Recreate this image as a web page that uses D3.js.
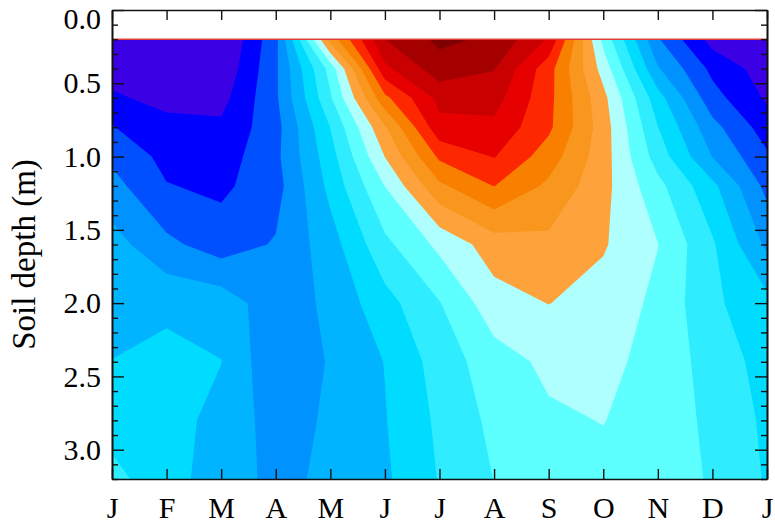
<!DOCTYPE html>
<html>
<head>
<meta charset="utf-8">
<script src="https://cdn.jsdelivr.net/npm/d3@7"></script>
<style>
  html, body { margin: 0; padding: 0; background: #fff; }
  svg { display: block; }
  text { font-family: "Liberation Serif", "Times New Roman", serif; fill: #000; }
</style>
</head>
<body>
<svg id="chart" width="775" height="527"></svg>
<script>
// Month labels (January to January) and sampled soil depths in metres
const months = ["J", "F", "M", "A", "M", "J", "J", "A", "S", "O", "N", "D", "J"];
const depths = [0.2, 0.4, 0.6, 0.8, 1.0, 1.2, 1.6, 2.0, 2.4, 2.8, 3.2];
const depthTicks = [0.0, 0.5, 1.0, 1.5, 2.0, 2.5, 3.0];

// Contour levels and the fill colour of each band (coldest first)
const levels = [1, 2, 3, 4, 5, 6, 7, 8, 9, 10, 11, 12, 13, 14, 15, 16];
const bandColors = [
  "#3b00e3", "#0000ff", "#0050ff", "#0092ff", "#00b4ff", "#00dcff",
  "#30ecff", "#5effff", "#b0ffff", "#fea23c", "#f8961e", "#f87f00",
  "#fd2800", "#e70000", "#c80000", "#a50000", "#7f0000"
];

// Monthly depth profiles (one value per depth, top to bottom), in level units
const profJan  = [0.30, 0.60, 1.15, 2.05, 2.80, 3.35, 4.40, 4.60, 5.02, 5.60, 6.30];
const profFeb  = [0.10, 0.30, 0.70, 1.30, 1.70, 2.05, 3.24, 4.76, 5.32, 5.50, 5.40];
const profMar  = [-0.14, 0.18, 0.65, 1.20, 1.50, 1.80, 2.50, 4.60, 5.02, 4.60, 4.50];
const profApr  = [2.71, 2.82, 2.83, 2.63, 2.75, 2.60, 3.09, 3.37, 3.17, 3.63, 3.75];
const profMay  = [10.40, 7.40, 6.87, 6.02, 5.60, 5.30, 4.55, 4.23, 4.09, 4.12, 4.19];
const profJun  = [15.00, 13.75, 11.75, 9.90, 9.02, 8.02, 6.75, 5.63, 5.03, 4.95, 4.84];
const profJul  = [16.23, 15.57, 14.30, 13.70, 12.20, 10.80, 8.25, 6.95, 6.44, 6.20, 6.06];
const profAug  = [15.81, 15.05, 14.40, 13.75, 13.05, 12.02, 9.50, 8.59, 7.56, 7.25, 7.02];
const profSep  = [13.90, 12.40, 12.30, 12.20, 11.50, 10.80, 9.75, 9.02, 8.22, 7.84, 7.50];
const profOct  = [7.70, 8.60, 9.30, 9.50, 9.45, 9.33, 9.10, 8.60, 8.30, 8.03, 7.70];
const profNov  = [3.10, 4.10, 5.40, 6.02, 6.55, 7.30, 8.02, 7.78, 7.62, 7.50, 7.40];
const profDec  = [0.60, 1.74, 2.39, 3.33, 3.97, 5.26, 6.13, 6.20, 6.60, 6.80, 6.92];
const profJan2 = [0.30, 0.50, 0.85, 1.50, 2.15, 2.70, 3.80, 5.30, 5.60, 5.80, 5.90];

const profiles = [profJan, profFeb, profMar, profApr, profMay, profJun, profJul,
                  profAug, profSep, profOct, profNov, profDec, profJan2];

const svg = d3.select("#chart");
const nx = months.length, ny = depths.length;

const x = d3.scaleLinear().domain([0, 12]).range([112, 767]);
const y = d3.scaleLinear().domain([0, 3.2]).range([10, 479]);

// Row-major grid for the contour generator
const values = [];
for (let j = 0; j < ny; j++) for (let i = 0; i < nx; i++) values.push(profiles[i][j]);

// Grid-index -> depth (depth rows are not evenly spaced)
const rowDepth = d3.scaleLinear().domain(d3.range(ny)).range(depths);

// Contour coordinates put sample i at i + 0.5; map them onto month/depth pixels
const toPx = d3.geoTransform({
  point(cx, cy) {
    const mi = Math.max(0, Math.min(nx - 1, cx - 0.5));
    const dj = Math.max(0, Math.min(ny - 1, cy - 0.5));
    this.stream.point(x(mi), y(rowDepth(dj)));
  }
});
const path = d3.geoPath(toPx);

const contours = d3.contours().size([nx, ny]).thresholds(levels)(values);

const field = svg.append("g");
field.append("rect")
  .attr("x", x(0)).attr("y", y(depths[0]))
  .attr("width", x(12) - x(0)).attr("height", y(depths[ny - 1]) - y(depths[0]))
  .attr("fill", bandColors[0]);

field.selectAll("path.band")
  .data(contours)
  .join("path")
  .attr("class", "band")
  .attr("d", path)
  .attr("fill", (d, k) => bandColors[k + 1]);

// Thin line along the shallowest sampled depth
svg.append("path")
  .datum([0, 12])
  .attr("d", d3.line().x(d => x(d)).y(() => y(depths[0])))
  .attr("stroke", "#e0403a")
  .attr("stroke-width", 1.5)
  .attr("fill", "none");

// Axes: all ticks point into the plot
const minorDepths = d3.range(0, 33).map(i => i / 10).filter(v => Math.round(v * 10) % 5 !== 0);
const fontSize = 30;

function styleAxis(g) {
  g.selectAll("path.domain").attr("stroke", "#111").attr("stroke-width", 1.6);
  g.selectAll(".tick line").attr("stroke", "#111").attr("stroke-width", 1.4);
  g.selectAll(".tick text").style("font-size", fontSize + "px").style("font-family", '"Liberation Serif", serif').attr("fill", "#000");
}

const leftMajor = svg.append("g")
  .attr("transform", `translate(${x(0)},0)`)
  .call(d3.axisLeft(y).tickValues(depthTicks).tickSize(-12).tickSizeOuter(0)
    .tickPadding(11).tickFormat(d3.format(".1f")))
  .call(styleAxis);
leftMajor.selectAll(".tick text").filter(d => d === 0).attr("dy", "0.62em");

svg.append("g")
  .attr("transform", `translate(${x(0)},0)`)
  .call(d3.axisLeft(y).tickValues(minorDepths).tickSize(-6).tickSizeOuter(0).tickFormat(""))
  .call(styleAxis);

svg.append("g")
  .attr("transform", `translate(${x(12)},0)`)
  .call(d3.axisRight(y).tickValues(depthTicks).tickSize(-12).tickSizeOuter(0).tickFormat(""))
  .call(styleAxis);
svg.append("g")
  .attr("transform", `translate(${x(12)},0)`)
  .call(d3.axisRight(y).tickValues(minorDepths).tickSize(-6).tickSizeOuter(0).tickFormat(""))
  .call(styleAxis);

svg.append("g")
  .attr("transform", `translate(0,${y(3.2)})`)
  .call(d3.axisBottom(x).tickValues(d3.range(nx)).tickSize(-10).tickSizeOuter(0)
    .tickPadding(18).tickFormat(i => months[i]))
  .call(styleAxis);

svg.append("g")
  .attr("transform", `translate(0,${y(0)})`)
  .call(d3.axisTop(x).tickValues(d3.range(nx)).tickSize(-10).tickSizeOuter(0).tickFormat(""))
  .call(styleAxis);

// Y-axis title
svg.append("text")
  .attr("transform", `translate(35,${(y(0) + y(3.2)) / 2 + 10}) rotate(-90)`)
  .attr("text-anchor", "middle")
  .style("font-size", "33px")
  .text("Soil depth (m)");
</script>
</body>
</html>
